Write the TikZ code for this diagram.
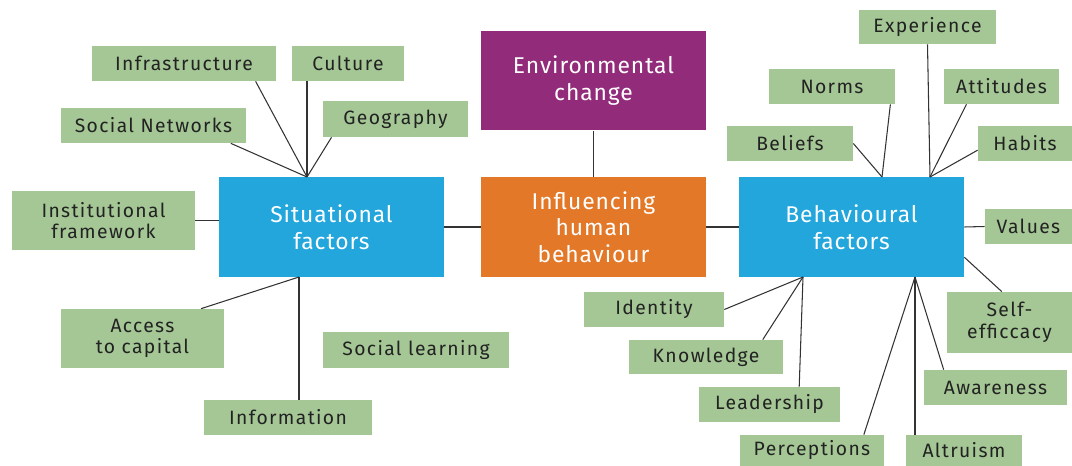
\documentclass[tikz,border=0pt]{standalone}
\usepackage{fontspec}
\setmainfont{Fira Sans}
\newfontfamily\leaffont{Fira Sans}[LetterSpace=7]
\newfontfamily\factorfont{Fira Sans}[LetterSpace=4]
\usepackage{tikz}

\definecolor{leafgreen}{HTML}{A4C795}
\definecolor{factorblue}{HTML}{22A6DC}
\definecolor{changepurple}{HTML}{922B7A}
\definecolor{coreorange}{HTML}{E27828}
\definecolor{textdark}{HTML}{222222}
\definecolor{linegray}{HTML}{333333}

\begin{document}
\begin{tikzpicture}[x=0.02cm, y=-0.02cm,
		leaf/.style={fill=leafgreen, text=textdark, align=center, inner sep=0pt, font=\leaffont\fontsize{11}{12.3}\selectfont},
		factor/.style={fill=factorblue, text=white, align=center, inner sep=0pt, minimum width=4.5cm, minimum height=2cm, font=\factorfont\fontsize{13}{15.1}\selectfont},
		link/.style={draw=linegray, line width=0.6pt}]
		\useasboundingbox (0,0) rectangle (1072,466);
		
		% core boxes
		\node[factor] (situ) at (331.5,227) {Situational\\factors};
		\node[factor, fill=coreorange] (infl) at (593.5,227) {Influencing\\human\\behaviour};
		\node[factor, fill=changepurple] (env) at (593.5,80.5) {Environmental\\change};
		\node[factor] (behav) at (851.5,227) {Behavioural\\factors};
		
		% situational side
		\node[leaf, minimum width=3.68cm, minimum height=0.7cm] (infra) at (184,63.5) {Infrastructure};
		\node[leaf, minimum width=2.24cm, minimum height=0.7cm] (culture) at (348,63.5) {Culture};
		\node[leaf, minimum width=3.7cm, minimum height=0.7cm] (socnet) at (153.5,125.5) {Social Networks};
		\node[leaf, minimum width=2.9cm, minimum height=0.72cm] (geo) at (395.5,119) {Geography};
		\node[leaf, minimum width=3.66cm, minimum height=1.18cm] (instit) at (103.5,220.5) {Institutional\\framework};
		\node[leaf, minimum width=3.26cm, minimum height=1.18cm] (access) at (142.5,338.5) {Access\\to capital};
		\node[leaf, minimum width=3.72cm, minimum height=0.72cm] (soclearn) at (416,350) {Social learning};
		\node[leaf, minimum width=3.36cm, minimum height=0.7cm] (info) at (288,417.5) {Information};
		
		% behavioural side
		\node[leaf, minimum width=2.74cm, minimum height=0.68cm] (experience) at (927.5,27) {Experience};
		\node[leaf, minimum width=2.52cm, minimum height=0.7cm] (norms) at (832,86.5) {Norms};
		\node[leaf, minimum width=2.3cm, minimum height=0.7cm] (attitudes) at (1001.5,86.5) {Attitudes};
		\node[leaf, minimum width=2.52cm, minimum height=0.7cm] (beliefs) at (790,143.5) {Beliefs};
		\node[leaf, minimum width=1.88cm, minimum height=0.7cm] (habits) at (1025,143.5) {Habits};
		\node[leaf, minimum width=1.74cm, minimum height=0.7cm] (values) at (1028.5,226.5) {Values};
		\node[leaf, minimum width=2.5cm, minimum height=1.22cm] (selfeff) at (1009.5,322.5) {Self-\\efficcacy};
		\node[leaf, minimum width=2.86cm, minimum height=0.7cm] (awareness) at (995.5,387.5) {Awareness};
		\node[leaf, minimum width=2.32cm, minimum height=0.62cm] (altruism) at (964,450.5) {Altruism};
		\node[leaf, minimum width=2.88cm, minimum height=0.62cm] (perceptions) at (812,450.5) {Perceptions};
		\node[leaf, minimum width=2.82cm, minimum height=0.7cm] (leadership) at (769.5,404.5) {Leadership};
		\node[leaf, minimum width=3.08cm, minimum height=0.68cm] (knowledge) at (706,357) {Knowledge};
		\node[leaf, minimum width=2.8cm, minimum height=0.7cm] (identity) at (654,309.5) {Identity};
		
		% hubs on the factor boxes
		\coordinate (situtop) at (307,177);
		\coordinate (situbot) at (299,277);
		\coordinate (behavtopl) at (882,177);
		\coordinate (behavtopr) at (930,177);
		\coordinate (behavbotl) at (803,277);
		\coordinate (behavbotr) at (915,277);
		
		\draw[link] (situ.east) -- (infl.west);
		\draw[link] (infl.east) -- (behav.west);
		\draw[link] (env.south) -- (infl.north);
		
		\draw[link] (situtop) -- (infra.-14);
		\draw[link] (situtop) -- (situtop |- culture.south);
		\draw[link] (situtop) -- (socnet.-13);
		\draw[link] (situtop) -- (geo.-164);
		\draw[link] (instit.east) -- (instit.east -| situ.west);
		\draw[link] (situbot) -- (access.27);
		\draw[link] (situbot) -- (situbot |- info.north);
		
		\draw[link] (behavtopl) -- (beliefs.east);
		\draw[link] (behavtopl) -- (norms.-17);
		\draw[link] (behavtopr) -- (experience.south);
		\draw[link] (behavtopr) -- (attitudes.-153);
		\draw[link] (behavtopr) -- (habits.-172);
		\draw[link] (behav.east) -- (values.west);
		\draw[link] (behav.-15) -- (selfeff.104);
		\draw[link] (behavbotl) -- (identity.east);
		\draw[link] (behavbotl) -- (knowledge.17);
		\draw[link] (behavbotl) -- (leadership.31);
		\draw[link] (behavbotr) -- (perceptions.17);
		\draw[link] (behavbotr) -- (behavbotr |- altruism.north);
		\draw[link] (behavbotr) -- (awareness.161);
	\end{tikzpicture}
\end{document}
